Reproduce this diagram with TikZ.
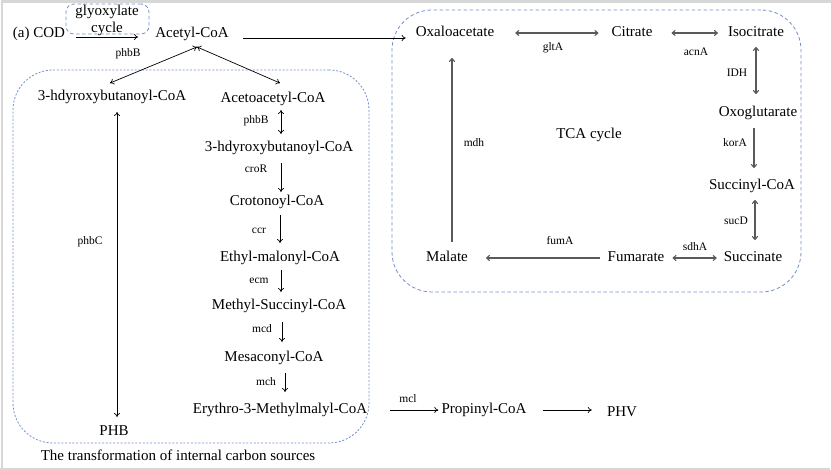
\documentclass[tikz,border=0pt]{standalone}
\usepackage{fontspec}
\setmainfont{Liberation Serif}
\usetikzlibrary{arrows.meta}
\definecolor{boxblue}{RGB}{118,142,202}
\definecolor{tcagray}{RGB}{90,90,90}
\definecolor{framegray}{RGB}{215,215,215}
\begin{document}
\begin{tikzpicture}[x=1pt,y=-1pt,
  txt/.style={font=\fontsize{15}{17}\selectfont, inner sep=0pt, text height=10.5pt, text depth=3pt},
  lbl/.style={font=\fontsize{11.5}{13}\selectfont, inner sep=0pt},
  arr/.style={-{To[length=4pt,width=6pt]}, line width=0.7pt},
  darr/.style={{To[length=4pt,width=6pt]}-{To[length=4pt,width=6pt]}, line width=0.7pt},
  tarr/.style={arr, draw=tcagray, line width=1.1pt},
  tdarr/.style={darr, draw=tcagray, line width=1.1pt},
  region/.style={draw=boxblue, line width=0.8pt, inner sep=0pt}]
\useasboundingbox (0,0) rectangle (831,470);
\fill[white] (0,0) rectangle (831,470);
% frame
\draw[framegray, line width=2.5pt] (2,468.5) -- (2,1.5) -- (831,1.5);
\draw[framegray, line width=2pt] (0,469) -- (830,469);

% dashed regions
\node[region, dash pattern=on 2pt off 1.7pt, rounded corners=40pt, minimum width=356pt, minimum height=373pt] (leftbox) at (191,256.5) {};
\node[region, dash pattern=on 3.5pt off 2.5pt, rounded corners=40pt, minimum width=409pt, minimum height=282pt] (tcabox) at (596.5,151) {};
\node[region, dash pattern=on 3.5pt off 2.5pt, rounded corners=8pt, minimum width=83pt, minimum height=30pt] (glybox) at (107.5,19) {};
\node[font=\fontsize{15}{17}\selectfont, align=center, inner sep=0pt] (gly) at (107,20.5) {glyoxylate\\[-0.5pt]cycle};

% top row
\node[txt] (cod) at (39,34) {(a) COD};
\node[txt] (acetyl) at (192,34) {Acetyl-CoA};

% left pathway
\node[txt] (hb1) at (112,97) {3-hdyroxybutanoyl-CoA};
\node[txt] (aceto) at (273,99) {Acetoacetyl-CoA};
\node[txt] (hb2) at (279,148) {3-hdyroxybutanoyl-CoA};
\node[txt] (cro) at (277,202) {Crotonoyl-CoA};
\node[txt] (eth) at (280,258) {Ethyl-malonyl-CoA};
\node[txt] (msuc) at (279,306) {Methyl-Succinyl-CoA};
\node[txt] (mesa) at (274,358) {Mesaconyl-CoA};
\node[txt] (ery) at (280,410) {Erythro-3-Methylmalyl-CoA};
\node[txt] (prop) at (484,410) {Propinyl-CoA};
\node[txt] (phv) at (622,413) {PHV};
\node[txt] (phb) at (114,432) {PHB};
\node[txt] (caption) at (178,457) {The transformation of internal carbon sources};

% TCA
\node[txt] (oxa) at (455,33) {Oxaloacetate};
\node[txt] (cit) at (632,33) {Citrate};
\node[txt] (iso) at (756,33) {Isocitrate};
\node[txt] (oxo) at (758,113) {Oxoglutarate};
\node[txt] (sucoa) at (752,186) {Succinyl-CoA};
\node[txt] (succ) at (753,258) {Succinate};
\node[txt] (fum) at (636,258) {Fumarate};
\node[txt] (mal) at (447,258) {Malate};
\node[txt] (tca) at (589,135) {TCA cycle};

% labels
\node[lbl] (l1) at (128,54) {phbB};
\node[lbl] (l2) at (256,121) {phbB};
\node[lbl] (l3) at (256,169) {croR};
\node[lbl] (l4) at (259,231) {ccr};
\node[lbl] (l5) at (259,281) {ecm};
\node[lbl] (l6) at (262,329) {mcd};
\node[lbl] (l7) at (266,382) {mch};
\node[lbl] (l8) at (408,399) {mcl};
\node[lbl] (l9) at (90,242) {phbC};
\node[lbl] (t1) at (553,48) {gltA};
\node[lbl] (t2) at (696,52) {acnA};
\node[lbl] (t3) at (737,73) {IDH};
\node[lbl] (t4) at (735,143) {korA};
\node[lbl] (t5) at (736,221) {sucD};
\node[lbl] (t6) at (695,247) {sdhA};
\node[lbl] (t7) at (560,241) {fumA};
\node[lbl] (t8) at (474,143) {mdh};

% connectors, left
\draw[arr, shorten <=11pt, shorten >=17pt] ([yshift=-3pt]cod.east) -- ([yshift=-3pt]acetyl.west);
\draw[arr, shorten <=14pt, shorten >=10pt] ([yshift=-4pt]acetyl.east) -- ([yshift=-4pt]acetyl.east -| oxa.west);
\draw[darr] ([xshift=5pt,yshift=-6pt]acetyl.south) -- ([xshift=-2pt,yshift=7pt]hb1.north);
\draw[darr] ([xshift=5pt,yshift=-6pt]acetyl.south) -- ([xshift=7pt,yshift=9pt]aceto.north);
\draw[darr] ([xshift=5pt,yshift=-8pt]hb1.south) -- ([xshift=3pt,yshift=8pt]phb.north);
\draw[darr] ([xshift=8pt,yshift=-4pt]aceto.south) -- ([xshift=2pt,yshift=7pt]hb2.north);
\draw[arr] ([xshift=2pt,yshift=-8pt]hb2.south) -- ([xshift=4pt,yshift=3pt]cro.north);
\draw[arr] ([xshift=3pt,yshift=-6pt]cro.south) -- ([xshift=0pt,yshift=8pt]eth.north);
\draw[arr] ([xshift=1pt,yshift=-5pt]eth.south) -- ([xshift=2pt,yshift=7pt]msuc.north);
\draw[arr] ([xshift=3pt,yshift=-9pt]msuc.south) -- ([xshift=8pt,yshift=9pt]mesa.north);
\draw[arr] ([xshift=11pt,yshift=-8pt]mesa.south) -- ([xshift=5pt,yshift=11pt]ery.north);
\draw[arr, shorten <=23pt, shorten >=3pt] (ery.east) -- (prop.west);
\draw[arr, shorten <=16pt, shorten >=15pt] (prop.east) -- (prop.east -| phv.west);

% connectors, TCA
\draw[tdarr, shorten <=21pt, shorten >=13pt] (oxa.east) -- (cit.west);
\draw[tdarr, shorten <=19pt, shorten >=10pt] (cit.east) -- (iso.west);
\draw[tdarr, shorten <=7pt, shorten >=12pt] (iso.south) -- (iso.south |- oxo.north);
\draw[tarr, shorten <=8pt, shorten >=11pt] ([xshift=-4pt]oxo.south) -- ([xshift=2pt]sucoa.north);
\draw[tdarr, shorten <=7pt, shorten >=11pt] ([xshift=3pt]sucoa.south) -- ([xshift=2pt]succ.north);
\draw[tdarr, shorten <=8pt, shorten >=7pt] (fum.east) -- (succ.west);
\draw[tarr, shorten <=7pt, shorten >=18pt] (fum.west) -- (mal.east);
\draw[tarr, shorten <=9pt, shorten >=18pt] ([xshift=5pt]mal.north) -- ([xshift=-3pt]oxa.south);
\end{tikzpicture}
\end{document}
